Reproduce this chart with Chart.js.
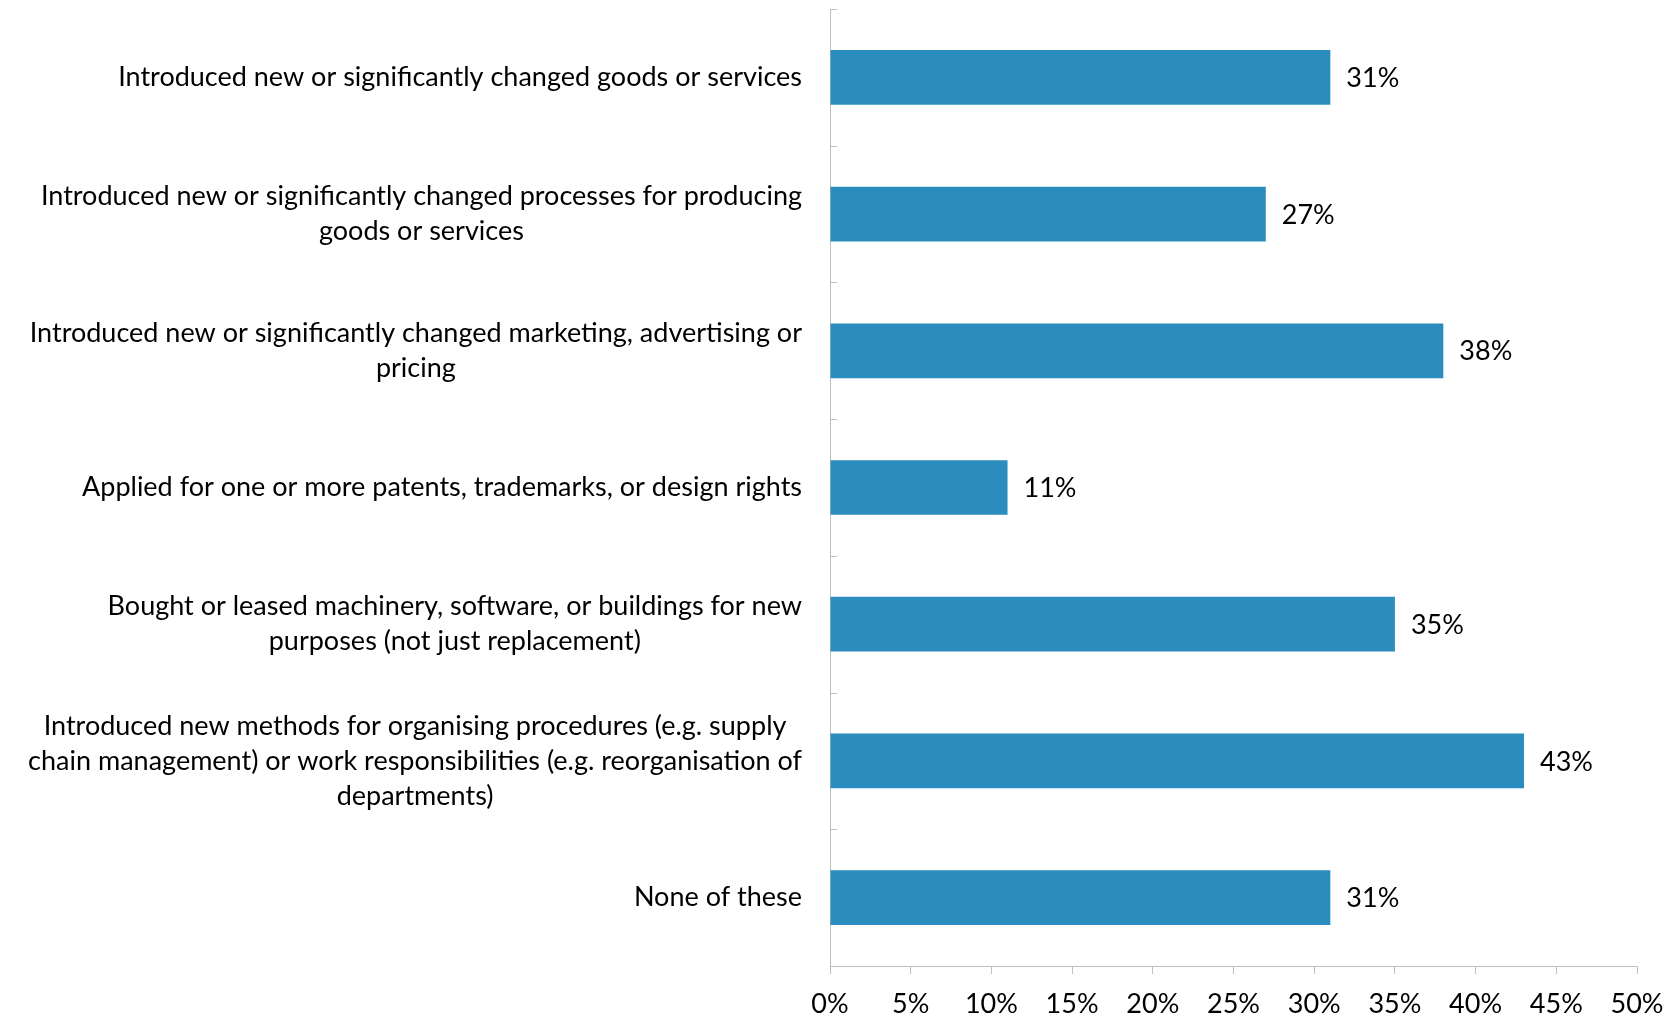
<!DOCTYPE html>
<html>
<head>
<meta charset="utf-8">
<script src="https://cdn.jsdelivr.net/npm/chart.js@4/dist/chart.umd.min.js"></script>
<style>
html, body { margin: 0; padding: 0; background: #fff; }
#wrap { width: 1678px; height: 1019px; }
</style>
</head>
<body>
<div id="wrap"><canvas id="chart"></canvas></div>
<script>
// category labels, one array of lines per bar
const categories = [
	["Introduced new or significantly changed goods or services"],
	["Introduced new or significantly changed processes for producing", "goods or services"],
	["Introduced new or significantly changed marketing, advertising or", "pricing"],
	["Applied for one or more patents, trademarks, or design rights"],
	["Bought or leased machinery, software, or buildings for new", "purposes (not just replacement)"],
	["Introduced new methods for organising procedures (e.g. supply", "chain management) or work responsibilities (e.g. reorganisation of", "departments)"],
	["None of these"]
];
const shares = [31, 27, 38, 11, 35, 43, 31];
const axisMin = 0;
const axisMax = 50;
const axisStep = 5;

const FONT = "Lato, 'Open Sans', sans-serif";
const FONT_SIZE = 27;
const AXIS_GREY = "#bfbfbf";

const labelsPlugin =
{
	id: "labels",
	afterDatasetsDraw(chart)
	{
		const ctx = chart.ctx;
		const xs = chart.scales.x;
		const ys = chart.scales.y;
		ctx.save();

		// small inward ticks on the category axis
		ctx.strokeStyle = AXIS_GREY;
		ctx.lineWidth = 1;
		const n = categories.length;
		for (let i = 0; i <= n; i++)
		{
			const y = Math.round(ys.top + i * ys.height / n) + 0.5;
			ctx.beginPath();
			ctx.moveTo(xs.left, y);
			ctx.lineTo(xs.left + 7, y);
			ctx.stroke();
		}

		ctx.font = FONT_SIZE + "px " + FONT;
		ctx.fillStyle = "#000";
		ctx.textBaseline = "middle";

		// value labels
		const meta = chart.getDatasetMeta(0);
		meta.data.forEach((bar, i) =>
		{
			ctx.textAlign = "left";
			ctx.fillText(shares[i] + "%", bar.x + 16, bar.y + 1);
		});

		// category labels: block right aligned, lines centred within the block
		const rightEdge = xs.left - 28;
		const lineHeight = 35;
		categories.forEach((lines, i) =>
		{
			const yc = ys.getPixelForValue(i);
			const widest = Math.max(...lines.map(l => ctx.measureText(l).width));
			const cx = rightEdge - widest / 2;
			const y0 = yc - (lines.length - 1) * lineHeight / 2;
			ctx.textAlign = "center";
			lines.forEach((l, j) => ctx.fillText(l, cx, y0 + j * lineHeight));
		});
		ctx.restore();
	}
};

const config =
{
	type: "bar",
	data:
	{
		labels: categories.map(c => c.join(" ")),
		datasets:
		[
			{
				data: shares,
				backgroundColor: "rgb(43, 140, 190)",
				barPercentage: 0.4,
				categoryPercentage: 1.0
			}
		]
	},
	options:
	{
		indexAxis: "y",
		responsive: true,
		maintainAspectRatio: false,
		animation: false,
		layout: { padding: { top: 9, right: 41, left: 0, bottom: 0 } },
		plugins:
		{
			legend: { display: false },
			tooltip: { enabled: false }
		},
		scales:
		{
			x:
			{
				min: axisMin,
				max: axisMax,
				ticks:
				{
					stepSize: axisStep,
					callback: v => v + "%",
					color: "#000",
					font: { family: FONT, size: FONT_SIZE },
					padding: 14
				},
				grid: { drawOnChartArea: false, tickLength: 8, color: AXIS_GREY },
				border: { color: AXIS_GREY },
				afterFit: s => { s.height = 53; }
			},
			y:
			{
				ticks: { display: false },
				grid: { display: false },
				border: { color: AXIS_GREY },
				afterFit: s => { s.width = 830; }
			}
		}
	},
	plugins: [labelsPlugin]
};

new Chart(document.getElementById("chart"), config);
</script>
</body>
</html>
